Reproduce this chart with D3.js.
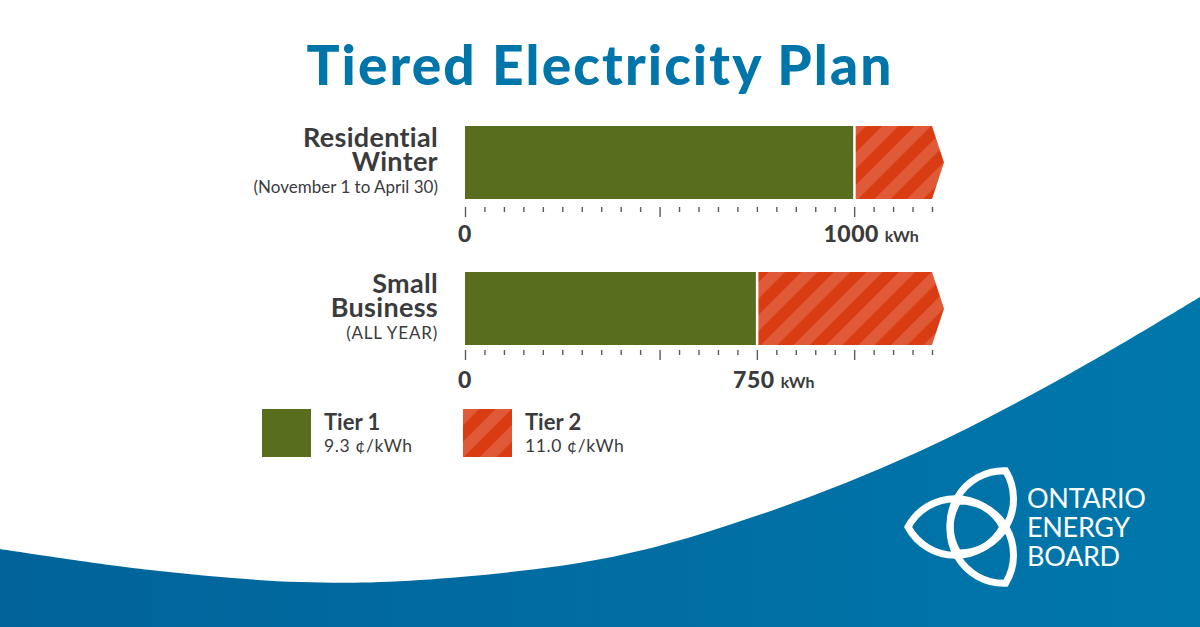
<!DOCTYPE html>
<html>
<head>
<meta charset="utf-8">
<script src="https://cdn.jsdelivr.net/npm/d3@7"></script>
<style>
  html, body { margin: 0; padding: 0; background: #ffffff; }
  svg { display: block; }
  text { font-family: Lato, "Open Sans", "DejaVu Sans", sans-serif; }
</style>
</head>
<body>
<svg id="chart" width="1200" height="627"></svg>
<script>
// ---------- data ----------
const chartTitle = "Tiered Electricity Plan";
const categories = ["Residential Winter", "Small Business"];
const categoryLines = [["Residential", "Winter"], ["Small", "Business"]];
const categoryNotes = ["(November 1 to April 30)", "(ALL YEAR)"];
const tier1Limits = [1000, 750];          // kWh where Tier 2 begins
const axisMax = 1200;                     // end of drawn bar (kWh)
const tickValues = d3.range(0, 1201, 50); // minor ticks every 50 kWh
const majorTicks = [[0, 500, 1000], [0, 500, 750, 1000]];
const axisLabelValues = [[0, 1000], [0, 750]];
const unitLabel = "kWh";
const tierNames = ["Tier 1", "Tier 2"];
const tierRates = ["9.3 ¢/kWh", "11.0 ¢/kWh"];
const logoLines = ["ONTARIO", "ENERGY", "BOARD"];

// ---------- styles ----------
const C = {
  blue: "#0075a9",
  text: "#3b3b3d",
  green: "#586d1e",
  red: "#d93b12",
  redLight: "#e05a38",
  tick: "#5a5a5a"
};

const svg = d3.select("#chart");
const defs = svg.append("defs");

// hatch pattern
const pat = defs.append("pattern")
  .attr("id", "hatch").attr("patternUnits", "userSpaceOnUse")
  .attr("width", 23).attr("height", 23)
  .attr("patternTransform", "rotate(45)");
pat.append("rect").attr("width", 23).attr("height", 23).attr("fill", C.red);
pat.append("rect").attr("width", 11.5).attr("height", 23).attr("fill", C.redLight);

// wave gradient
const grad = defs.append("linearGradient").attr("id", "waveGrad")
  .attr("x1", "0%").attr("x2", "100%").attr("y1", "0%").attr("y2", "0%");
grad.append("stop").attr("offset", "0%").attr("stop-color", "#01639a");
grad.append("stop").attr("offset", "100%").attr("stop-color", "#0077ab");

// ---------- background wave ----------
const wavePts = [[0, 549], [150, 570], [300, 582], [420, 580], [612, 557], [765, 513], [918, 452], [1071, 373], [1200, 297]];
const waveLine = d3.line().curve(d3.curveCatmullRom.alpha(0.5));
svg.append("path")
  .attr("d", waveLine(wavePts) + "L1200,627L0,627Z")
  .attr("fill", "url(#waveGrad)");

// ---------- helpers ----------
function spreadTo(sel, target) {
  const text = sel.text();
  const w = sel.node().getComputedTextLength();
  if (w > 0 && text.length > 1) sel.attr("letter-spacing", ((target - w) / (text.length - 1)).toFixed(2));
  return sel;
}

// ---------- title ----------
const title = svg.append("text")
  .attr("x", 600).attr("y", 85)
  .attr("text-anchor", "middle")
  .attr("font-size", 55).attr("font-weight", 900)
  .attr("fill", C.blue)
  .text(chartTitle);
spreadTo(title, 585);

// ---------- scales ----------
const x = d3.scaleLinear().domain([0, axisMax]).range([465, 932]);
const y = d3.scaleBand().domain(categories).range([126, 345]).paddingInner(0.5).paddingOuter(0);
const bh = y.bandwidth();
const arrowTip = 12;
const axisGap = [8, 5];

categories.forEach((cat, i) => {
  const y0 = y(cat);
  const g = svg.append("g");

  // category labels
  const lbl = g.append("g").attr("text-anchor", "end").attr("fill", C.text);
  categoryLines[i].forEach((line, j) => {
    lbl.append("text")
      .attr("x", 438).attr("y", y0 + 21 + j * 24)
      .attr("font-size", 27).attr("font-weight", 700)
      .attr("letter-spacing", 0.3)
      .text(line);
  });
  lbl.append("text")
    .attr("x", 438).attr("y", y0 + 67)
    .attr("font-size", 17).attr("font-weight", 400)
    .attr("letter-spacing", i === 1 ? 0.8 : 0)
    .text(categoryNotes[i]);

  // tier 1 bar
  g.append("rect")
    .attr("x", x(0)).attr("y", y0)
    .attr("width", x(tier1Limits[i]) - x(0) - 1)
    .attr("height", bh)
    .attr("fill", C.green);

  // tier 2 bar with arrow end
  const xs = x(tier1Limits[i]) + 1.5, xe = x(axisMax);
  const p = d3.path();
  p.moveTo(xs, y0);
  p.lineTo(xe, y0);
  p.lineTo(xe + arrowTip, y0 + bh / 2);
  p.lineTo(xe, y0 + bh);
  p.lineTo(xs, y0 + bh);
  p.closePath();
  g.append("path").attr("d", p.toString()).attr("fill", "url(#hatch)");

  // axis
  const axisY = y0 + bh + axisGap[i];
  const axis = d3.axisBottom(x).tickValues(tickValues).tickFormat("").tickSize(5).tickSizeOuter(0);
  const ag = g.append("g").attr("transform", `translate(0,${axisY})`).call(axis);
  ag.select(".domain").remove();
  ag.selectAll(".tick line")
    .attr("stroke", C.tick).attr("stroke-width", 1.4)
    .attr("y2", d => majorTicks[i].includes(d) ? 10 : 5);

  // axis labels
  axisLabelValues[i].forEach(v => {
    const t = g.append("text")
      .attr("x", x(v) - (v !== 0 ? 3 : 0)).attr("y", y0 + bh + 43)
      .attr("text-anchor", "middle")
      .attr("font-size", 23).attr("font-weight", 900)
      .attr("letter-spacing", 0.5)
      .attr("fill", C.text)
      .text(v);
    if (v !== 0) {
      const w = t.node().getComputedTextLength();
      g.append("text")
        .attr("x", x(v) - 3 + w / 2 + 6).attr("y", y0 + bh + 43)
        .attr("font-size", 16).attr("font-weight", 700)
        .attr("fill", C.text)
        .text(unitLabel);
    }
  });
});

// ---------- legend ----------
const legendX = [262, 463];
tierNames.forEach((name, i) => {
  const lg = svg.append("g").attr("transform", `translate(${legendX[i]},409)`);
  lg.append("rect").attr("width", 49).attr("height", 48)
    .attr("fill", i === 0 ? C.green : "url(#hatch)");
  lg.append("text").attr("x", 62).attr("y", 21)
    .attr("font-size", 22).attr("font-weight", 700).attr("fill", C.text)
    .text(name);
  lg.append("text").attr("x", 62).attr("y", 43)
    .attr("font-size", 17.5).attr("font-weight", 400).attr("fill", C.text)
    .attr("letter-spacing", 0.6)
    .text(tierRates[i]);
});

// ---------- logo ----------
const logo = svg.append("g").attr("transform", "translate(973,527)");
const lensR = 54;
[180, -60, 60].forEach(a => {
  logo.append("path")
    .attr("d", `M-65,0 A${lensR},${lensR} 0 0 1 30,0 A${lensR},${lensR} 0 0 1 -65,0 Z`)
    .attr("transform", `rotate(${a + 180})`)
    .attr("fill", "none").attr("stroke", "#ffffff").attr("stroke-width", 7)
    .attr("stroke-linejoin", "miter");
});
logoLines.forEach((line, j) => {
  svg.append("text")
    .attr("x", 1027).attr("y", 508 + j * 29)
    .attr("font-size", 27).attr("font-weight", 400)
    .attr("font-family", "'Open Sans', Lato, sans-serif")
    .attr("fill", "#ffffff")
    .attr("letter-spacing", -0.3)
    .text(line);
});
</script>
</body>
</html>
